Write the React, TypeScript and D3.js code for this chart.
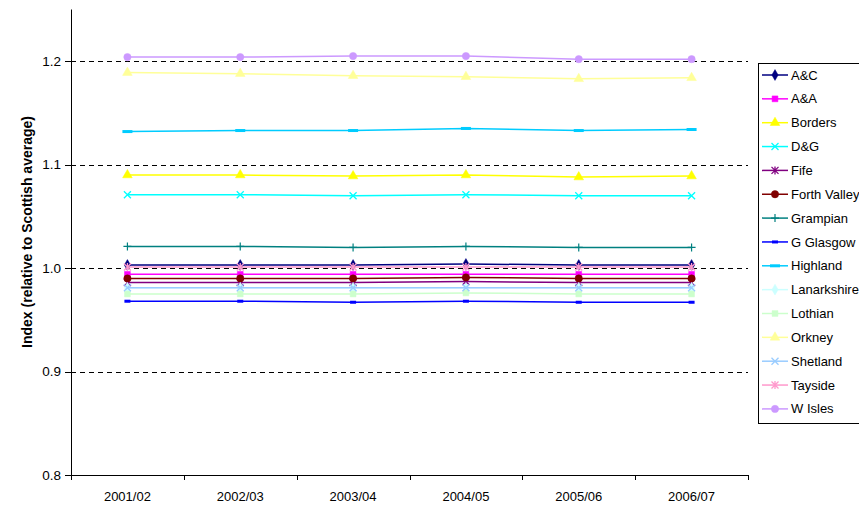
import React from "react";
import * as d3 from "d3";

const categories = ["2001/02", "2002/03", "2003/04", "2004/05", "2005/06", "2006/07"];
const seriesNames = ["A&C", "A&A", "Borders", "D&G", "Fife", "Forth Valley", "Grampian", "G Glasgow", "Highland", "Lanarkshire", "Lothian", "Orkney", "Shetland", "Tayside", "W Isles"];
const seriesColors = ["#000080", "#FF00FF", "#FFFF00", "#00FFFF", "#800080", "#800000", "#008080", "#0000FF", "#00CCFF", "#CCFFFF", "#CCFFCC", "#FFFF99", "#99CCFF", "#FF99CC", "#CC99FF"];
const seriesMarkers = ["diamond", "square", "triangle", "x", "star", "circle", "plus", "shortdash", "longdash", "diamond", "square", "triangle", "x", "star", "circle"];

const vAC = [1.003, 1.003, 1.003, 1.004, 1.003, 1.003];
const vAA = [0.994, 0.994, 0.994, 0.994, 0.994, 0.994];
const vBorders = [1.090, 1.090, 1.089, 1.090, 1.088, 1.089];
const vDG = [1.071, 1.071, 1.070, 1.071, 1.070, 1.070];
const vFife = [0.986, 0.986, 0.986, 0.987, 0.986, 0.986];
const vFV = [0.990, 0.990, 0.990, 0.991, 0.990, 0.990];
const vGrampian = [1.021, 1.021, 1.020, 1.021, 1.020, 1.020];
const vGlasgow = [0.968, 0.968, 0.967, 0.968, 0.967, 0.967];
const vHighland = [1.132, 1.133, 1.133, 1.135, 1.133, 1.134];
const vLanark = [0.981, 0.981, 0.981, 0.981, 0.981, 0.981];
const vLothian = [0.975, 0.975, 0.975, 0.976, 0.975, 0.975];
const vOrkney = [1.189, 1.188, 1.186, 1.185, 1.183, 1.184];
const vShetland = [0.981, 0.981, 0.981, 0.981, 0.981, 0.981];
const vTayside = [1.001, 1.001, 1.001, 1.001, 1.001, 1.001];
const vWIsles = [1.204, 1.204, 1.205, 1.205, 1.202, 1.202];

const seriesValues = [vAC, vAA, vBorders, vDG, vFife, vFV, vGrampian, vGlasgow, vHighland, vLanark, vLothian, vOrkney, vShetland, vTayside, vWIsles];

const yTicks = [0.8, 0.9, 1.0, 1.1, 1.2];

const W = 859, H = 508;
const left = 71, right = 748, top = 9.5, bottom = 475;

function Marker({ type, color, x, y }: { type: string; color: string; x: number; y: number }) {
  const t = `translate(${x},${y})`;
  const sym = (s: any, size: number) => (
    <path d={d3.symbol().type(s).size(size)() || ""} transform={t} fill={color} stroke={color} strokeWidth={0.5} />
  );
  switch (type) {
    case "diamond": return sym(d3.symbolDiamond, 34);
    case "square": return sym(d3.symbolSquare, 34);
    case "triangle": return sym(d3.symbolTriangle, 40);
    case "circle": return sym(d3.symbolCircle, 42);
    case "x":
      return <path d="M-3.5,-3.5L3.5,3.5M-3.5,3.5L3.5,-3.5" transform={t} stroke={color} strokeWidth={1.3} fill="none" />;
    case "star":
      return <path d="M-3.5,-3.5L3.5,3.5M-3.5,3.5L3.5,-3.5M0,-4L0,4" transform={t} stroke={color} strokeWidth={1.3} fill="none" />;
    case "plus":
      return <path d="M-4,0L4,0M0,-4L0,4" transform={t} stroke={color} strokeWidth={1.2} fill="none" />;
    case "shortdash":
      return <rect x={x - 3} y={y - 1.5} width={6} height={3} fill={color} />;
    case "longdash":
      return <rect x={x - 5} y={y - 1.5} width={10} height={3} fill={color} />;
  }
  return null;
}

export default function App() {
  const x = d3.scaleBand().domain(categories).range([left, right]);
  const y = d3.scaleLinear().domain([0.8, 1.25]).range([bottom, top]);
  const cx = (c: string) => (x(c) as number) + x.bandwidth() / 2;
  const line = d3.line<number>().x((_, i) => cx(categories[i])).y((v) => y(v));
  const bounds = [...categories.map((c) => x(c) as number), right];
  const font = "'Liberation Sans', Arial, sans-serif";

  const legX = 758, legY = 63, legStep = 23.85;

  return (
    <svg width={W} height={H} style={{ position: "absolute", left: 0, top: 0, background: "#fff" }} fontFamily={font}>
      <rect width={W} height={H} fill="#fff" />
      {yTicks.slice(1).map((t) => (
        <line key={t} x1={left} x2={right} y1={Math.round(y(t)) + 0.5} y2={Math.round(y(t)) + 0.5} stroke="#000" strokeDasharray="5,4" strokeWidth={1} />
      ))}
      {seriesValues.map((vals, si) => (
        <g key={seriesNames[si]}>
          <path d={line(vals) || ""} fill="none" stroke={seriesColors[si]} strokeWidth={1.5} />
          {vals.map((v, i) => (
            <Marker key={i} type={seriesMarkers[si]} color={seriesColors[si]} x={cx(categories[i])} y={y(v)} />
          ))}
        </g>
      ))}
      <line x1={left + 0.5} x2={left + 0.5} y1={top} y2={bottom} stroke="#000" />
      <line x1={left} x2={right} y1={bottom + 0.5} y2={bottom + 0.5} stroke="#000" />
      {yTicks.map((t) => (
        <g key={t}>
          <line x1={left - 6} x2={left} y1={Math.round(y(t)) + 0.5} y2={Math.round(y(t)) + 0.5} stroke="#000" />
          <text x={left - 10} y={y(t)} dy="0.35em" textAnchor="end" fontSize={13.5} fill="#000">{t.toFixed(1)}</text>
        </g>
      ))}
      {bounds.map((b, i) => (
        <line key={i} x1={Math.round(b) + 0.5} x2={Math.round(b) + 0.5} y1={bottom} y2={bottom + 5} stroke="#000" />
      ))}
      {categories.map((c) => (
        <text key={c} x={cx(c)} y={501} textAnchor="middle" fontSize={13} fill="#000">{c}</text>
      ))}
      <text transform={`translate(32,232) rotate(-90)`} textAnchor="middle" fontSize={14} fontWeight="bold" fill="#000">
        Index (relative to Scottish average)
      </text>
      <rect x={legX + 0.5} y={legY + 0.5} width={W} height={360} fill="#fff" stroke="#000" strokeWidth={1} />
      {seriesNames.map((n, i) => {
        const ly = legY + 12 + i * legStep;
        return (
          <g key={n}>
            <line x1={762} x2={788} y1={ly} y2={ly} stroke={seriesColors[i]} strokeWidth={1.5} />
            <Marker type={seriesMarkers[i]} color={seriesColors[i]} x={775} y={ly} />
            <text x={791} y={ly} dy="0.35em" fontSize={13} fill="#000">{n}</text>
          </g>
        );
      })}
    </svg>
  );
}
